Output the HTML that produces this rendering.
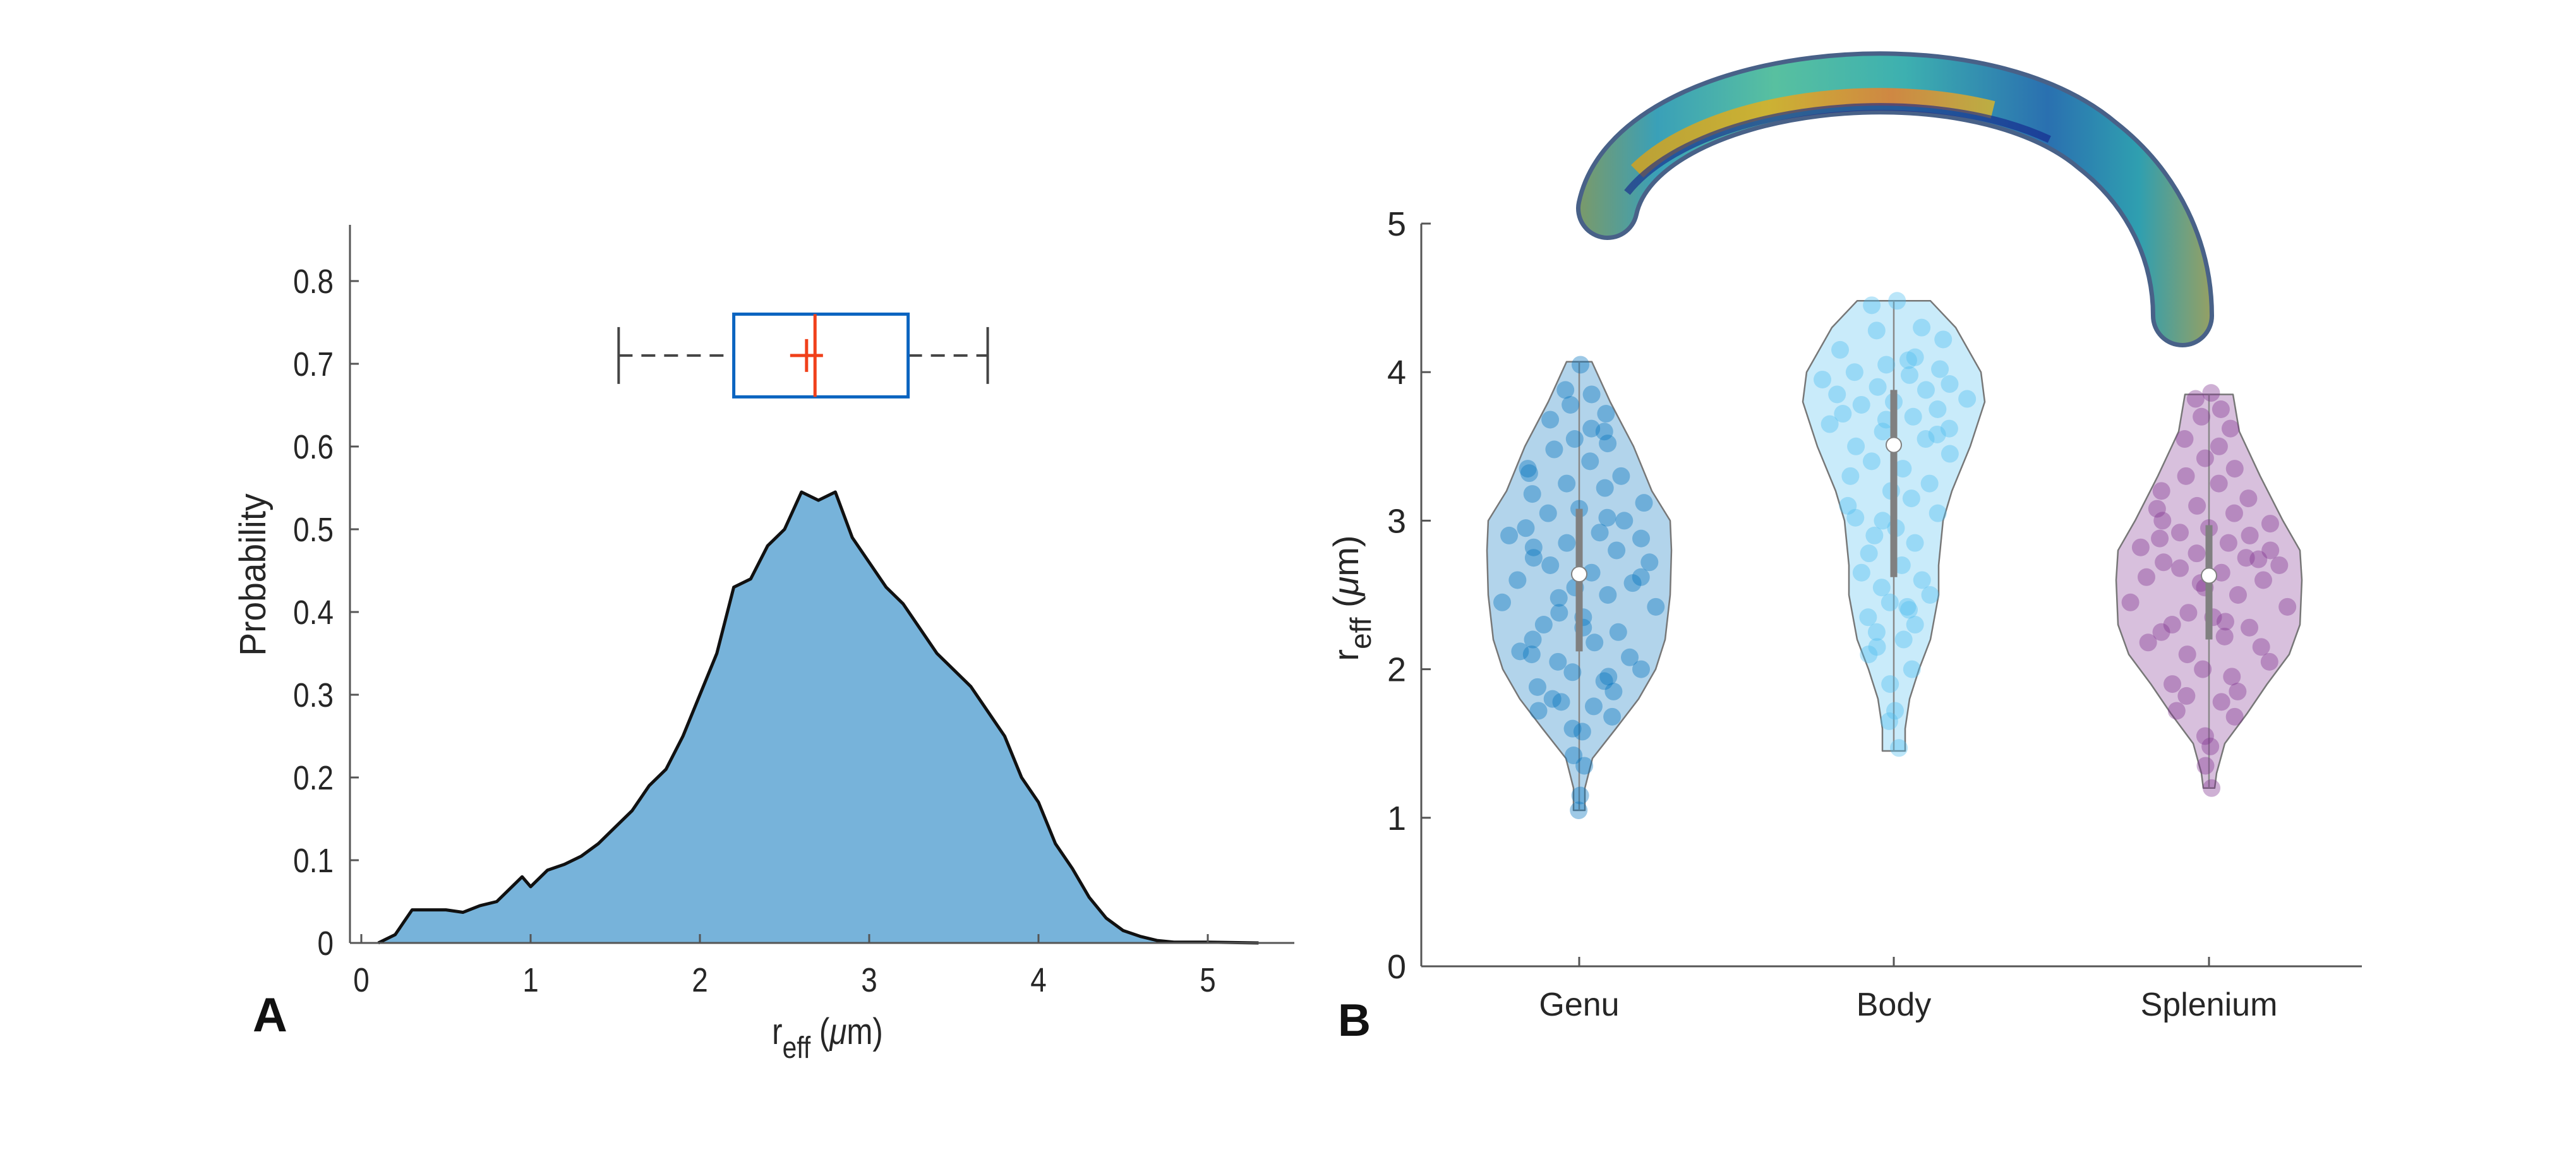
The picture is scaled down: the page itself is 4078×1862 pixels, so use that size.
<!DOCTYPE html>
<html><head><meta charset="utf-8"><style>
html,body{margin:0;padding:0;background:#fff;}
svg{display:block;font-family:"Liberation Sans",Arial,sans-serif;}
</style></head><body>
<svg id="fig" width="4078" height="1862" viewBox="0 0 4078 1862" xmlns="http://www.w3.org/2000/svg">
<defs>
<linearGradient id="arcG" x1="2500" y1="0" x2="3530" y2="0" gradientUnits="userSpaceOnUse">
<stop offset="0" stop-color="#7a9a6a"/><stop offset="0.12" stop-color="#3aa0b8"/><stop offset="0.3" stop-color="#58c0a0"/><stop offset="0.5" stop-color="#3db0b0"/><stop offset="0.72" stop-color="#2a70b0"/><stop offset="0.86" stop-color="#2f9fb0"/><stop offset="1" stop-color="#b0a050"/>
</linearGradient>
<linearGradient id="bandG" x1="2560" y1="0" x2="3350" y2="0" gradientUnits="userSpaceOnUse">
<stop offset="0" stop-color="#d0a020"/><stop offset="0.3" stop-color="#e0b020"/><stop offset="0.55" stop-color="#e88030"/><stop offset="0.8" stop-color="#d0c030"/><stop offset="1" stop-color="#30a0a0"/>
</linearGradient>
</defs>
<g id="panelA"></g>
<g id="panelB"></g>
</svg>
<script>
// ---------- Panel A data ----------
const densX = [0.1,0.2,0.3,0.4,0.5,0.6,0.7,0.8,0.9,0.95,1.0,1.1,1.2,1.3,1.4,1.5,1.6,1.7,1.8,1.9,2.0,2.1,2.2,2.3,2.4,2.5,2.6,2.7,2.8,2.9,3.0,3.1,3.2,3.3,3.4,3.5,3.6,3.7,3.8,3.9,4.0,4.1,4.2,4.3,4.4,4.5,4.6,4.7,4.8,5.0,5.3];
const densY = [0,0.01,0.04,0.04,0.04,0.037,0.045,0.05,0.07,0.08,0.068,0.088,0.095,0.105,0.12,0.14,0.16,0.19,0.21,0.25,0.30,0.35,0.43,0.44,0.48,0.50,0.545,0.535,0.545,0.49,0.46,0.43,0.41,0.38,0.35,0.33,0.31,0.28,0.25,0.20,0.17,0.12,0.09,0.055,0.03,0.015,0.008,0.003,0.001,0.001,0];
const boxStats = [1.52, 2.2, 2.68, 3.23, 3.7]; // whiskerLo, q1, median, q3, whiskerHi
const boxMean = [2.63];
const boxLevel = [0.71];
const xTicksA = [0,1,2,3,4,5];
const yTicksA = [0,0.1,0.2,0.3,0.4,0.5,0.6,0.7,0.8];

// ---------- Panel B data ----------
const categories = ["Genu","Body","Splenium"];
const genuLevels = [1.05,1.2,1.4,1.6,1.8,2.0,2.2,2.5,2.8,3.0,3.2,3.5,3.8,4.07];
const genuWidth  = [9,9,21,58,94,121,136,144,146,144,115,86,49,20];
const bodyLevels = [1.45,1.6,1.8,2.0,2.2,2.5,2.7,3.0,3.2,3.5,3.8,4.0,4.3,4.48];
const bodyWidth  = [18,18,25,40,58,71,71,78,92,121,144,138,98,58];
const splLevels  = [1.2,1.3,1.5,1.7,1.9,2.1,2.3,2.6,2.8,3.0,3.3,3.6,3.85];
const splWidth   = [9,12,25,60,92,127,144,147,144,117,81,48,38];
const medians = [2.64, 3.51, 2.63];
const q1s = [2.12, 2.62, 2.20];
const q3s = [3.08, 3.88, 2.97];
const genuPts = [4.05,3.88,3.85,3.78,3.72,3.68,3.62,3.55,3.52,3.48,3.4,3.35,3.3,3.25,3.22,3.18,3.12,3.08,3.05,3.0,2.95,2.92,2.9,2.88,2.85,2.8,2.75,2.72,2.7,2.65,2.6,2.58,2.55,2.5,2.45,2.42,2.38,2.35,2.3,2.25,2.2,2.18,2.12,2.08,2.05,2.0,1.98,1.92,1.88,1.85,1.8,1.75,1.72,1.68,1.6,1.58,1.42,1.35,1.15,1.05,3.6,3.32,3.02,2.82,2.62,2.48,2.28,2.1,1.95,1.78];
const bodyPts = [4.48,4.45,4.3,4.28,4.22,4.15,4.1,4.05,4.02,4.0,3.98,3.95,3.92,3.9,3.88,3.85,3.82,3.8,3.78,3.75,3.72,3.7,3.65,3.62,3.6,3.55,3.5,3.45,3.4,3.35,3.3,3.25,3.2,3.15,3.1,3.05,3.0,2.95,2.9,2.85,2.78,2.7,2.65,2.6,2.55,2.5,2.45,2.4,2.35,2.3,2.25,2.2,2.1,2.0,1.9,1.72,1.65,1.47,4.08,3.68,3.58,3.02,2.42,2.15];
const splPts = [3.86,3.82,3.75,3.7,3.62,3.55,3.5,3.42,3.35,3.3,3.25,3.2,3.15,3.1,3.05,3.0,2.98,2.95,2.92,2.9,2.88,2.85,2.82,2.8,2.78,2.75,2.72,2.7,2.68,2.65,2.62,2.6,2.55,2.5,2.45,2.42,2.38,2.35,2.3,2.28,2.25,2.22,2.18,2.15,2.1,2.05,2.0,1.95,1.9,1.85,1.82,1.78,1.72,1.68,1.55,1.48,1.35,1.2,2.32,2.58,2.74,3.08];
const jitter = [0.1,-0.6,0.5,-0.3,0.8,-0.8,0.3,-0.1,0.6,-0.5,0.2,-0.9,0.7,-0.2,0.4,-0.7,0.9,0.0,-0.4,0.55,-0.65,0.25,-0.85,0.75,-0.15,0.45,-0.55,0.85,-0.35,0.15,-0.75,0.65,-0.05,0.35,-0.95,0.95,-0.25,0.05,-0.45,0.5,-0.6,0.2,-0.8,0.7,-0.3,0.9,-0.1,0.4,-0.7,0.6,-0.5,0.3,-0.9,0.8,-0.2,0.1,-0.4,0.5,0.2,-0.1,0.6,-0.85,0.35,-0.55,0.75,-0.25,0.05,-0.65,0.45,-0.35];
const yTicksB = [0,1,2,3,4,5];

const NS = "http://www.w3.org/2000/svg";
function el(tag, attrs, parent){ const e=document.createElementNS(NS,tag); for(const k in attrs) e.setAttribute(k,attrs[k]); parent.appendChild(e); return e; }
function txt(str, x, y, size, anchor, parent, sx){ const t=el("text",{transform:`translate(${x},${y}) scale(${sx||1},1)`,"font-size":size,"text-anchor":anchor,fill:"#262626"},parent); t.textContent=str; return t; }

// ---------- Panel A ----------
const A = document.getElementById("panelA");
const xA = v => 572 + v*268;
const yA = v => 1493 - v*1310;
let d = `M${xA(densX[0])},${yA(0)}`;
densX.forEach((x,i)=>{ d += ` L${xA(x)},${yA(densY[i])}`; });
d += ` L${xA(densX[densX.length-1])},${yA(0)} Z`;
let area = el("path",{d:d,fill:"#77b3da",stroke:"none"},A);


let ld = densX.map((x,i)=>(i?"L":"M")+xA(x)+","+yA(densY[i])).join(" ");
let line = el("path",{d:ld,fill:"none",stroke:"#111",
 "stroke-width":5,"stroke-linejoin":"round"},A);


let axA = el("g",{},A);


el("line",{x1:554,y1:356,x2:554,y2:1493,stroke:"#555","stroke-width":3},axA);
el("line",{x1:554,y1:1493,x2:2049,y2:1493,stroke:"#555","stroke-width":3},axA);
yTicksA.forEach(v=>{
  el("line",{x1:554,y1:yA(v),x2:568,y2:yA(v),stroke:"#555","stroke-width":3},axA);
  let t = txt(String(v),528,yA(v)+19,54,"end",axA,0.85);
  
  
});
xTicksA.forEach(v=>{
  el("line",{x1:xA(v),y1:1493,x2:xA(v),y2:1479,stroke:"#555","stroke-width":3},axA);
  let t = txt(String(v),xA(v),1570,54,"middle",axA,0.85);
  
  
});
let bx = el("g",{},A);


const by = yA(boxLevel[0]);
el("line",{x1:xA(boxStats[0]),y1:by,x2:xA(boxStats[1]),y2:by,stroke:"#444","stroke-width":4,"stroke-dasharray":"22,14"},bx);
el("line",{x1:xA(boxStats[3]),y1:by,x2:xA(boxStats[4]),y2:by,stroke:"#444","stroke-width":4,"stroke-dasharray":"22,14"},bx);
el("line",{x1:xA(boxStats[0]),y1:by-45,x2:xA(boxStats[0]),y2:by+45,stroke:"#444","stroke-width":4},bx);
el("line",{x1:xA(boxStats[4]),y1:by-45,x2:xA(boxStats[4]),y2:by+45,stroke:"#444","stroke-width":4},bx);
el("rect",{x:xA(boxStats[1]),y:yA(0.76),width:xA(boxStats[3])-xA(boxStats[1]),height:yA(0.66)-yA(0.76),fill:"#fff",stroke:"#0b64c0","stroke-width":5},bx);
el("line",{x1:xA(boxStats[2]),y1:yA(0.76),x2:xA(boxStats[2]),y2:yA(0.66),stroke:"#f0401a","stroke-width":5},bx);
el("line",{x1:xA(boxMean[0])-26,y1:by,x2:xA(boxMean[0])+26,y2:by,stroke:"#f0401a","stroke-width":5},bx);
el("line",{x1:xA(boxMean[0]),y1:by-26,x2:xA(boxMean[0]),y2:by+26,stroke:"#f0401a","stroke-width":5},bx);
let yl = el("text",{transform:"translate(420,910) rotate(-90) scale(0.95,1)","font-size":58,"text-anchor":"middle",fill:"#262626"},A);
yl.textContent="Probability";


let xl = el("text",{transform:"translate(1310,1653) scale(0.85,1)","font-size":58,"text-anchor":"middle",fill:"#262626"},A);
xl.innerHTML = 'r<tspan dy="22" font-size="48">eff</tspan><tspan dy="-22"> (</tspan><tspan font-style="italic">μ</tspan>m)';


let la = el("text",{x:400,y:1633,"font-size":76,"font-weight":"bold",fill:"#111"},A);
la.textContent="A";



// ---------- Panel B ----------
const B = document.getElementById("panelB");
let arc = el("g",{},B);


const arcPath = "M2545,330 C2590,120 3120,60 3320,230 C3410,300 3455,400 3455,500";
el("path",{d:arcPath,fill:"none",stroke:"#1a3a6a","stroke-width":100,"stroke-linecap":"round",opacity:0.8},arc);
el("path",{d:arcPath,fill:"none",stroke:"url(#arcG)","stroke-width":86,"stroke-linecap":"round"},arc);
el("path",{d:arcPath,transform:"translate(0,22)",pathLength:100,"stroke-dasharray":"0,8,50,100",fill:"none",stroke:"url(#bandG)","stroke-width":28,opacity:0.85},arc);
el("path",{d:arcPath,transform:"translate(0,38)",pathLength:100,"stroke-dasharray":"0,6,60,100",fill:"none",stroke:"#12208a","stroke-width":12,opacity:0.6},arc);

const yB = v => 1530 - v*235.2;
const cx = [2500, 2998, 3497];
const fills = ["rgba(0,114,189,0.30)","rgba(77,190,238,0.30)","rgba(126,47,142,0.30)"];
const dots = ["rgba(0,114,189,0.38)","rgba(77,190,238,0.38)","rgba(126,47,142,0.38)"];
const levelsAll = [genuLevels, bodyLevels, splLevels];
const widthsAll = [genuWidth, bodyWidth, splWidth];
const ptsAll = [genuPts, bodyPts, splPts];
function halfWidth(g, v){ const L=levelsAll[g], W=widthsAll[g];
  if(v<=L[0]) return W[0]; if(v>=L[L.length-1]) return W[W.length-1];
  for(let i=1;i<L.length;i++){ if(v<=L[i]){ const t=(v-L[i-1])/(L[i]-L[i-1]); return W[i-1]+t*(W[i]-W[i-1]); } } return 0; }
categories.forEach((c,g)=>{
  const gg = el("g",{},B);
  
  
  const L=levelsAll[g], W=widthsAll[g], x0=cx[g];
  let p = "M"+(x0-W[0])+","+yB(L[0]);
  for(let i=0;i<L.length;i++) p += " L"+(x0+W[i])+","+yB(L[i]);
  for(let i=L.length-1;i>=0;i--) p += " L"+(x0-W[i])+","+yB(L[i]);
  p += " Z";
  el("path",{d:p,fill:fills[g],stroke:"#777","stroke-width":2.5,"stroke-linejoin":"round"},gg);
  el("line",{x1:x0,y1:yB(L[0]),x2:x0,y2:yB(L[L.length-1]),stroke:"#888","stroke-width":2.5},gg);
  ptsAll[g].forEach((v,i)=>{
    const c2 = el("circle",{cx:x0+jitter[i%jitter.length]*halfWidth(g,v)*0.9,cy:yB(v),r:14,fill:dots[g]},gg);
    
    
  });
  const iqr = el("line",{x1:x0,y1:yB(q1s[g]),x2:x0,y2:yB(q3s[g]),stroke:"#808080","stroke-width":11},gg);
  
  
  const med = el("circle",{cx:x0,cy:yB(medians[g]),r:12,fill:"#fff",stroke:"#808080","stroke-width":2},gg);
  
  
});
let axB = el("g",{},B);


el("line",{x1:2250,y1:354,x2:2250,y2:1530,stroke:"#555","stroke-width":3},axB);
el("line",{x1:2250,y1:1530,x2:3739,y2:1530,stroke:"#555","stroke-width":3},axB);
yTicksB.forEach(v=>{
  el("line",{x1:2250,y1:yB(v),x2:2265,y2:yB(v),stroke:"#555","stroke-width":3},axB);
  let t = txt(String(v),2226,yB(v)+19,54,"end",axB);
  
  
});
categories.forEach((c,g)=>{
  el("line",{x1:cx[g],y1:1530,x2:cx[g],y2:1515,stroke:"#555","stroke-width":3},axB);
  let t = txt(c,cx[g],1608,52,"middle",axB);
  
  
});
let ylb = el("text",{transform:"translate(2150,947) rotate(-90)","font-size":56,"text-anchor":"middle",fill:"#262626"},B);
ylb.innerHTML = 'r<tspan dy="20" font-size="46">eff</tspan><tspan dy="-20"> (</tspan><tspan font-style="italic">μ</tspan>m)';


let lb = el("text",{x:2118,y:1640,"font-size":72,"font-weight":"bold",fill:"#111"},B);
lb.textContent="B";


</script>
</body></html>
